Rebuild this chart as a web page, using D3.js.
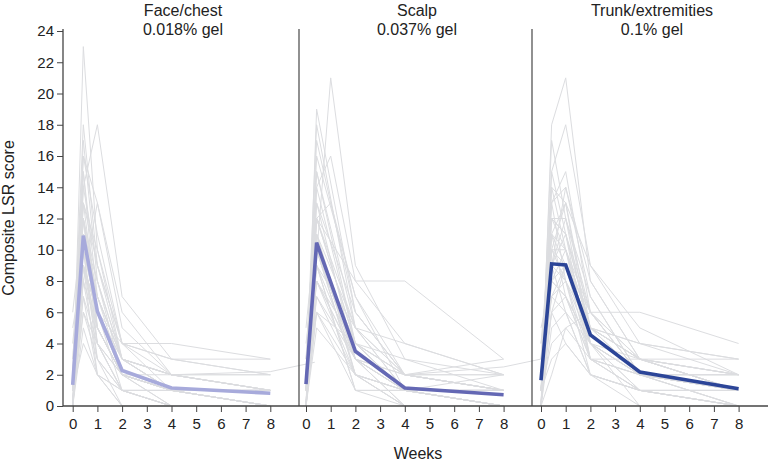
<!DOCTYPE html>
<html><head><meta charset="utf-8">
<script src="https://cdn.jsdelivr.net/npm/d3@7"></script>
<style>
body{margin:0;background:#fff;}
svg{display:block;font-family:"Liberation Sans",Arial,Helvetica,sans-serif;}
</style></head>
<body><svg id="c" width="768" height="468"></svg>
<script>
// ---- data ----
const weeks = [0, 0.43, 1, 2, 4, 8];
const weeksLate = [0, 0.43, 1, 2, 4, 8, 9.8];
const xTicks = [0, 1, 2, 3, 4, 5, 6, 7, 8];
const yTicks = [0, 2, 4, 6, 8, 10, 12, 14, 16, 18, 20, 22, 24];
const panelTitles = ["Face/chest", "Scalp", "Trunk/extremities"];
const panelSubtitles = ["0.018% gel", "0.037% gel", "0.1% gel"];

const faceMean  = [1.35, 10.9, 6.05, 2.27, 1.15, 0.82];
const scalpMean = [1.4, 10.45, null, 3.5, 1.15, 0.72];
const trunkMean = [1.65, 9.1, 9.03, 4.55, 2.18, 1.1];

const faceIndiv = [
[0,23,10,4,1,0],[2,18,9,3,2,1],[1,17,8,2,1,1],[0,16,13,5,2,1],[2,15,7,3,1,0],
[1,14,18,7,3,2],[0,13,6,2,1,0],[3,13,9,4,4,3],[1,12,5,2,0,0],[2,12,7,3,2,1],
[0,12,4,1,0,0],[1,11,6,2,1,1],[4,11,8,3,1,0],[0,11,5,2,2,1],[2,10,6,4,3,3],
[1,10,4,1,0,0],[0,10,7,3,1,1],[1,10,3,0,0,0],[2,9,5,2,1,1],[0,9,6,3,2,2],
[1,9,4,1,1,0],[5,9,6,2,1,1],[0,8,3,1,0,0],[1,8,5,2,1,0],[2,8,13,6,2,1],
[0,7,4,2,1,1],[1,7,2,0,0,0],[0,6,4,2,1,0],[1,6,3,1,1,1],[0,5,2,1,0,0],
[6,12,8,3,2,2],[1,15,5,2,1,0],[0,14,9,4,2,1],[2,11,7,2,1,0],[1,4,2,1,0,0],
[0,13,10,3,1,1],[1,10,6,2,0,0],[3,12,6,1,1,0],[0,9,2,0,0,0],[2,16,11,4,3,2]
];
const faceLate = [[1,9,6,3,2,2.2,2.8]];

const scalpIndiv = [
[0,19,null,6,2,1],[2,18,null,5,1,0],[1,null,21,9,3,1],[0,14,16,8,4,2],[3,15,null,4,1,1],
[0,13,null,3,1,0],[1,12,null,8,8,3],[2,12,null,4,2,1],[0,11,null,2,0,0],[1,11,null,5,4,2],
[0,10,null,3,1,1],[4,10,null,4,2,1],[1,10,null,2,1,0],[0,9,null,3,1,1],[2,9,null,5,2,2],
[1,9,null,1,0,0],[0,8,null,4,1,0],[3,8,null,2,1,1],[1,8,null,3,2,3],[0,7,null,2,0,0],
[1,7,null,3,1,1],[0,6,null,1,1,0],[2,6,null,4,3,2],[0,5,null,2,0,0],[1,12,13,7,2,1],
[0,14,null,4,1,0],[2,13,null,6,2,1],[0,16,null,7,1,0],[1,11,null,3,0,0],[0,10,null,2,1,1],
[5,12,null,5,2,1],[1,9,null,1,1,2],[0,15,null,5,1,0],[2,8,null,3,2,2],[0,12,null,4,1,1],
[1,17,null,6,2,1],[0,6,null,2,1,0],[3,10,null,3,0,0]
];
const scalpLate = [[0,10,null,4,2,2.5,3.1]];

const trunkIndiv = [
[0,18,21,8,3,1],[2,15,18,9,4,2],[1,17,12,6,2,1],[0,14,13,5,3,1],[3,13,14,7,2,1],
[1,12,11,5,2,0],[0,11,13,4,2,2],[2,10,10,6,6,4],[1,10,9,4,1,0],[0,9,11,3,2,1],
[4,9,8,5,3,2],[1,8,9,3,1,0],[0,8,7,4,2,1],[2,7,8,2,1,1],[1,6,7,3,2,2],
[0,5,6,2,0,0],[1,4,5,3,3,3],[0,12,10,5,2,1],[3,11,9,6,3,2],[1,9,12,4,1,0],
[0,14,10,5,3,1],[2,13,8,4,2,1],[0,10,8,3,1,0],[1,7,6,2,1,1],[5,8,7,4,2,2],
[0,6,9,5,4,3],[2,12,12,7,2,0],[1,3,4,2,1,1],[0,11,7,3,1,0],[1,9,6,4,3,2],
[0,2,5,6,3,1],[2,10,13,9,5,2],[1,8,10,3,2,1],[0,15,11,6,2,0],[3,7,9,5,4,3],
[1,6,4,2,1,0],[0,9,14,8,3,1],[2,11,10,4,0,0],[1,13,15,6,2,1],[4,12,11,5,3,2]
];
const trunkLate = [];

// ---- layout ----
const panels = [
  {indiv: faceIndiv, late: faceLate, mean: faceMean, color: "#a7aadb", x0: 72.7, cx: 183},
  {indiv: scalpIndiv, late: scalpLate, mean: scalpMean, color: "#6468b4", x0: 306, cx: 417},
  {indiv: trunkIndiv, late: trunkLate, mean: trunkMean, color: "#2c4598", x0: 541, cx: 652}
];
const plotTop = 31, plotBottom = 406, axisLeftX = 63;
const tickFont = 15, labelFont = 16;
const svg = d3.select("#c");
const y = d3.scaleLinear().domain([0, 24]).range([plotBottom, plotTop]);

function pts(vals, wk){ return vals.map((v,i)=>[wk[i], v]).filter(d=>d[1]!=null); }

panels.forEach((p, i) => {
  const x = d3.scaleLinear().domain([0, 8]).range([p.x0, p.x0 + 197.6]);
  const line = d3.line().x(d => x(d[0])).y(d => y(d[1]));
  const g = svg.append("g");
  p.indiv.forEach(r => g.append("path").attr("d", line(pts(r, weeks)))
    .attr("fill","none").attr("stroke","#dcdde0").attr("stroke-width",1));
  p.late.forEach(r => g.append("path").attr("d", line(pts(r, weeksLate)))
    .attr("fill","none").attr("stroke","#dcdde0").attr("stroke-width",1));
  g.append("path").attr("d", line(pts(p.mean, weeks)))
    .attr("fill","none").attr("stroke", p.color).attr("stroke-width",3.6)
    .attr("stroke-linejoin","miter");

  const xa = svg.append("g").attr("transform", `translate(0,${plotBottom})`)
    .call(d3.axisBottom(x).tickValues(xTicks).tickSize(6).tickPadding(6).tickFormat(d3.format("d")));
  xa.select(".domain").remove();
  xa.selectAll("line").attr("stroke","#444");
  xa.selectAll("text").attr("font-size",tickFont).attr("fill","#222").attr("font-family","Liberation Sans, Arial, sans-serif");

  svg.append("text").attr("x", p.cx).attr("y", 16).attr("text-anchor","middle")
    .attr("font-size",labelFont).attr("fill","#222").text(panelTitles[i]);
  svg.append("text").attr("x", p.cx).attr("y", 35).attr("text-anchor","middle")
    .attr("font-size",labelFont).attr("fill","#222").text(panelSubtitles[i]);
});

// dividers
[299, 532].forEach(xx => svg.append("line").attr("x1",xx).attr("x2",xx)
  .attr("y1",29).attr("y2",plotBottom).attr("stroke","#555").attr("stroke-width",1.3));

// baseline
svg.append("line").attr("x1",axisLeftX).attr("x2",768).attr("y1",plotBottom).attr("y2",plotBottom)
  .attr("stroke","#444").attr("stroke-width",1.3);

// y axis
const ya = svg.append("g").attr("transform", `translate(${axisLeftX},0)`)
  .call(d3.axisLeft(y).tickValues(yTicks).tickSize(6).tickPadding(3));
ya.select(".domain").attr("stroke","#444").attr("stroke-width",1.3).attr("d", `M0,29V${plotBottom}`);
ya.selectAll("line").attr("stroke","#444");
ya.selectAll("text").attr("font-size",tickFont).attr("fill","#222").attr("font-family","Liberation Sans, Arial, sans-serif");

svg.append("text").attr("transform","translate(14,218) rotate(-90)").attr("text-anchor","middle")
  .attr("font-size",labelFont).attr("fill","#222").text("Composite LSR score");
svg.append("text").attr("x",418).attr("y",459).attr("text-anchor","middle")
  .attr("font-size",labelFont).attr("fill","#222").text("Weeks");
</script></body></html>
